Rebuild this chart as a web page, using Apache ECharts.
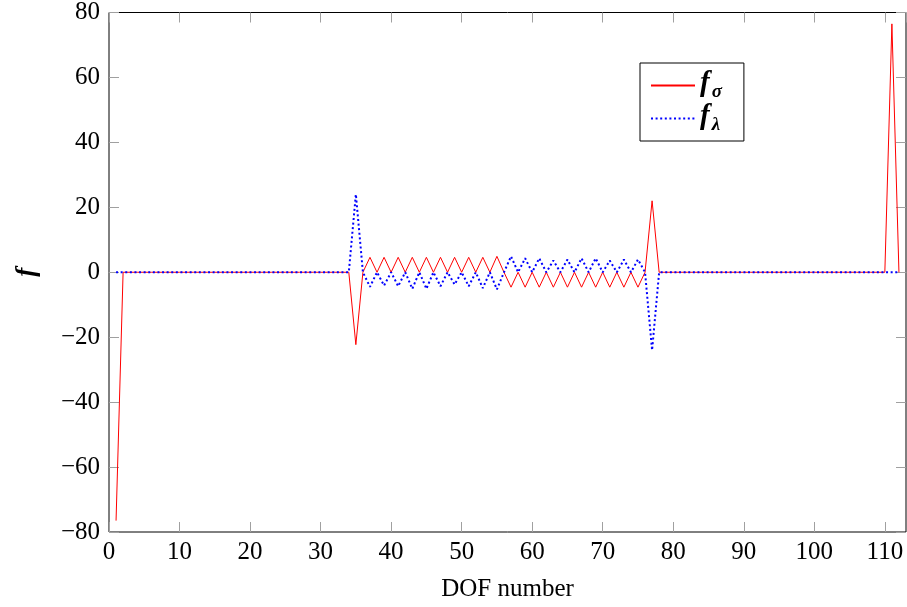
<!DOCTYPE html>
<html>
<head>
<meta charset="utf-8">
<script src="https://cdn.jsdelivr.net/npm/echarts@6/dist/echarts.min.js"></script>
<style>html,body{margin:0;padding:0;background:#fff}#c{width:907px;height:607px}</style>
</head>
<body>
<div id="c"></div>
<script>
// DOF numbers 1..112
const dof = [1,2,3,4,5,6,7,8,9,10,11,12,13,14,15,16,17,18,19,20,21,22,23,24,25,26,27,28,29,30,
  31,32,33,34,35,36,37,38,39,40,41,42,43,44,45,46,47,48,49,50,51,52,53,54,55,56,57,58,59,60,
  61,62,63,64,65,66,67,68,69,70,71,72,73,74,75,76,77,78,79,80,81,82,83,84,85,86,87,88,89,90,
  91,92,93,94,95,96,97,98,99,100,101,102,103,104,105,106,107,108,109,110,111,112];
// f_sigma values
const fSigma = [-76.5,0,0,0,0,0,0,0,0,0,0,0,0,0,0,0,0,0,0,0,0,0,0,0,0,0,0,0,0,0,
  0,0,0,0,-22.3,0,4.6,0,4.6,0,4.6,0,4.6,0,4.6,0,4.6,0,4.6,0,4.6,0,4.6,0,4.9,0,-4.6,0,-4.6,0,
  -4.6,0,-4.6,0,-4.6,0,-4.6,0,-4.6,0,-4.6,0,-4.6,0,-4.6,0,22,0,0,0,0,0,0,0,0,0,0,0,0,0,
  0,0,0,0,0,0,0,0,0,0,0,0,0,0,0,0,0,0,0,0,76.5,0];
// f_lambda values
const fLambda = [0,0,0,0,0,0,0,0,0,0,0,0,0,0,0,0,0,0,0,0,0,0,0,0,0,0,0,0,0,0,
  0,0,0,0,24,0,-4.5,0,-4.1,0,-4.3,0,-5.1,0,-5.1,0,-4.3,0,-3.8,0,-4.3,0,-4.9,0,-5.3,0,4.9,0,4.3,0,
  4.3,0,3.6,0,3.9,0,4.3,0,4.3,0,3.6,0,3.9,0,3.9,0,-24,0,0,0,0,0,0,0,0,0,0,0,0,0,
  0,0,0,0,0,0,0,0,0,0,0,0,0,0,0,0,0,0,0,0,0,0];
const xTicks = [0,10,20,30,40,50,60,70,80,90,100,110];
const yTicks = [-80,-60,-40,-20,0,20,40,60,80];

const FONT = 'Liberation Serif';
const chart = echarts.init(document.getElementById('c'), null, {renderer:'canvas'});
const tickStyle = {show:true, inside:true, length:10, lineStyle:{color:'#a0a0a0', width:1}};
const noLine = {show:false, onZero:false};
const fmtY = v => (v < 0 ? '\u2212' + Math.abs(v) : String(v));
const fmtX = v => (xTicks.indexOf(v) >= 0 ? String(v) : '');
const names = {'f_sigma':'{f|f}{s|σ}', 'f_lambda':'{f|f}{s|λ}'};

chart.setOption({
  animation:false,
  backgroundColor:'#fff',
  grid:{left:109, right:1, top:11.5, bottom:75, show:true, borderColor:'#000', borderWidth:1, containLabel:false},
  legend:{
    orient:'vertical', left:640, top:63,
    backgroundColor:'#fff', borderColor:'#000', borderWidth:1,
    padding:[6,22,6,10], itemGap:0, itemWidth:44, itemHeight:14,
    itemStyle:{opacity:0},
    data:['f_sigma','f_lambda'],
    formatter: n => names[n],
    textStyle:{
      fontFamily:FONT, color:'#000',
      rich:{
        f:{fontFamily:FONT, fontStyle:'italic', fontWeight:'bold', fontSize:29, lineHeight:32, verticalAlign:'top'},
        s:{fontFamily:FONT, fontStyle:'italic', fontWeight:'bold', fontSize:19, lineHeight:33, verticalAlign:'bottom', padding:[0,0,0,2]}
      }
    }
  },
  xAxis:[{
    type:'value', min:0, max:113, interval:10,
    name:'DOF number', nameLocation:'middle', nameGap:45,
    nameTextStyle:{fontFamily:FONT, fontSize:25, color:'#000'},
    axisLine:noLine, axisTick:tickStyle, splitLine:{show:false},
    axisLabel:{fontFamily:FONT, fontSize:25, color:'#000', margin:8, formatter:fmtX, showMaxLabel:false}
  },{
    type:'value', position:'top', min:0, max:113, interval:10,
    axisLine:noLine, axisTick:tickStyle, splitLine:{show:false}, axisLabel:{show:false}
  }],
  yAxis:[{
    type:'value', min:-80, max:80, interval:20,
    name:'{f|f}', nameLocation:'middle', nameGap:68, nameRotate:90,
    nameTextStyle:{rich:{f:{fontFamily:FONT, fontStyle:'italic', fontWeight:'bold', fontSize:27, color:'#000'}}},
    axisLine:noLine, axisTick:tickStyle, splitLine:{show:false},
    axisLabel:{fontFamily:FONT, fontSize:25, color:'#000', margin:9, formatter:fmtY}
  },{
    type:'value', position:'right', min:-80, max:80, interval:20,
    axisLine:noLine, axisTick:tickStyle, splitLine:{show:false}, axisLabel:{show:false}
  }],
  series:[{
    name:'f_sigma', type:'line', xAxisIndex:0, yAxisIndex:0,
    data: dof.map((x,i) => [x, fSigma[i]]),
    symbol:'none', lineStyle:{color:'#ff0000', width:1}, itemStyle:{color:'#ff0000'}
  },{
    name:'f_lambda', type:'line', xAxisIndex:0, yAxisIndex:0,
    data: dof.map((x,i) => [x, fLambda[i]]),
    symbol:'none', lineStyle:{color:'#0000ff', width:2, type:[2,2.6]}, itemStyle:{color:'#0000ff'}
  }]
});
</script>
</body>
</html>
